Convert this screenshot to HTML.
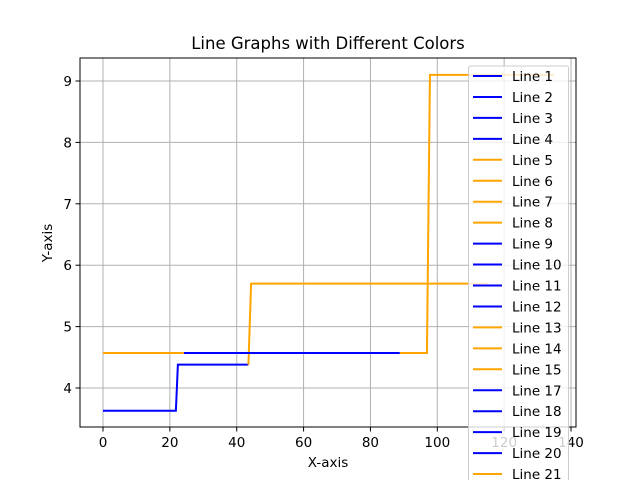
<!DOCTYPE html>
<html><head><meta charset="utf-8"><style>
body{margin:0;background:#fff;font-family:"Liberation Sans","DejaVu Sans",sans-serif}
</style></head><body>
<svg width="640" height="480" xmlns="http://www.w3.org/2000/svg" font-family="DejaVu Sans, Liberation Sans, sans-serif">
<g id="grid"></g>
<g id="series"></g>
<rect x="80" y="58" width="496" height="369" fill="none" stroke="#000" stroke-width="1"/>
<g id="ticks"></g>
<text x="328" y="49" font-size="16.5" text-anchor="middle">Line Graphs with Different Colors</text>
<text x="328" y="467" font-size="13.5" text-anchor="middle">X-axis</text>
<text x="52" y="243" font-size="13.5" text-anchor="middle" transform="rotate(-90 52 243)">Y-axis</text>
<g id="legend"></g>
</svg>
<script>
const xTicks=[0,20,40,60,80,100,120,140];
const yTicks=[4,5,6,7,8,9];
const seriesColors=["blue","orange","orange","blue","orange"];
const seriesX=[[0,21.8,22.4,43.5],[43.5,44.3,115],[0,24.2],[24.2,88.8],[88.8,96.9,97.8,135]];
const seriesY=[[3.63,3.63,4.38,4.38],[4.38,5.7,5.7],[4.57,4.57],[4.57,4.57],[4.57,4.57,9.1,9.1]];
const legendLabels=["Line 1","Line 2","Line 3","Line 4","Line 5","Line 6","Line 7","Line 8","Line 9","Line 10","Line 11","Line 12","Line 13","Line 14","Line 15","Line 17","Line 18","Line 19","Line 20","Line 21"];
const legendColors=["blue","blue","blue","blue","orange","orange","orange","orange","blue","blue","blue","blue","orange","orange","orange","blue","blue","blue","blue","orange"];
const NS="http://www.w3.org/2000/svg";
function sx(v){return 103+v*3.343;}
function sy(v){return 388-(v-4)*61.4;}
function mk(t,a,p){const e=document.createElementNS(NS,t);for(const k in a)e.setAttribute(k,a[k]);p.appendChild(e);return e;}
const grid=document.getElementById('grid'),ticks=document.getElementById('ticks');
xTicks.forEach(v=>{const x=sx(v);
const g=mk('line',{x1:x,x2:x,y1:58,y2:427,stroke:'#b0b0b0','stroke-width':1},grid);


mk('line',{x1:x,x2:x,y1:427,y2:431.5,stroke:'#000'},ticks);
const t=mk('text',{x:x,y:447,'font-size':13.5,'text-anchor':'middle'},ticks);t.textContent=v;

});
yTicks.forEach(v=>{const y=sy(v);
const g=mk('line',{x1:80,x2:576,y1:y,y2:y,stroke:'#b0b0b0','stroke-width':1},grid);


mk('line',{x1:75.5,x2:80,y1:y,y2:y,stroke:'#000'},ticks);
const t=mk('text',{x:72,y:y+5,'font-size':13.5,'text-anchor':'end'},ticks);t.textContent=v;

});
const sg=document.getElementById('series');
seriesX.forEach((xs,i)=>{const pts=xs.map((x,j)=>sx(x)+','+sy(seriesY[i][j])).join(' ');
const p=mk('polyline',{points:pts,fill:'none',stroke:seriesColors[i],'stroke-width':2},sg);

});
const lg=document.getElementById('legend');
const box=mk('rect',{x:468.5,y:66,width:100,height:430,rx:2,fill:'#fff','fill-opacity':0.8,stroke:'#ccc'},lg);


legendLabels.forEach((l,i)=>{const y=76+i*20.95;
const ln=mk('line',{x1:473,x2:502,y1:y,y2:y,stroke:legendColors[i],'stroke-width':2},lg);


const t=mk('text',{x:512,y:y+5,'font-size':13.5},lg);t.textContent=l;

});
</script>
</body></html>
